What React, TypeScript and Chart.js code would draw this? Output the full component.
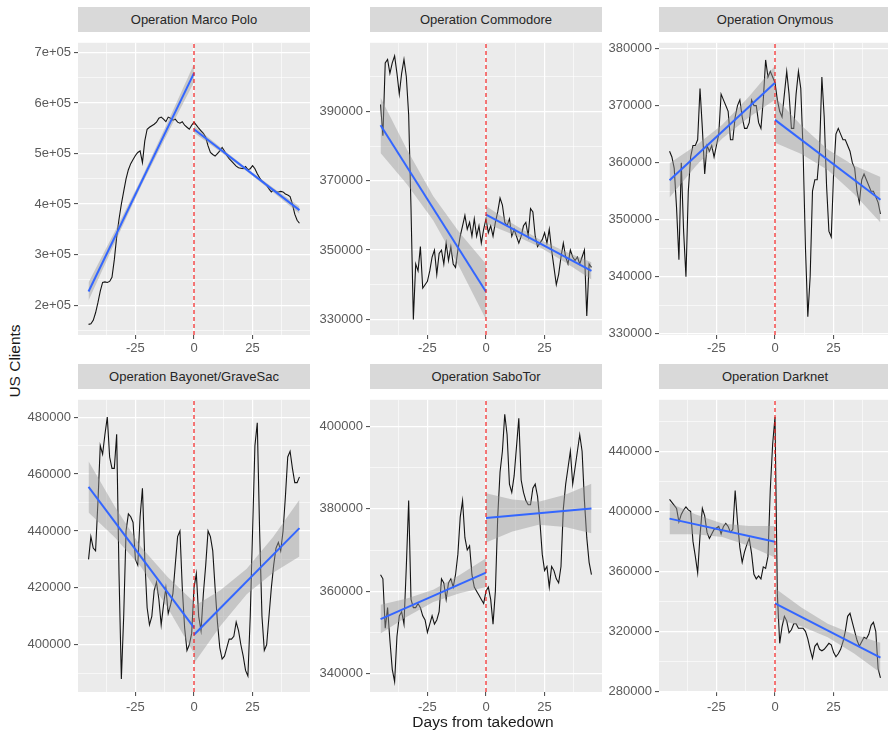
import React, { useEffect, useRef } from "react";
import { Chart, registerables } from "chart.js";

Chart.register(...registerables);

// ---------- DATA ----------
const days = [
  -45, -44, -43, -42, -41, -40, -39, -38, -37, -36, -35, -34, -33, -32, -31, -30,
  -29, -28, -27, -26, -25, -24, -23, -22, -21, -20, -19, -18, -17, -16, -15, -14,
  -13, -12, -11, -10, -9, -8, -7, -6, -5, -4, -3, -2, -1, 0, 1, 2, 3, 4, 5, 6, 7,
  8, 9, 10, 11, 12, 13, 14, 15, 16, 17, 18, 19, 20, 21, 22, 23, 24, 25, 26, 27, 28,
  29, 30, 31, 32, 33, 34, 35, 36, 37, 38, 39, 40, 41, 42, 43, 44, 45,
];

// US clients, thousands (day -45 .. 45)
const marcoPoloK = [
  162, 163, 170, 185, 205, 228, 245, 246, 245, 247,
  255, 290, 335, 370, 400, 425, 450, 468, 480, 488,
  496, 502, 505, 482, 525, 548, 552, 555, 558, 562,
  570, 572, 568, 563, 572, 570, 566, 568, 562, 560,
  563, 556, 552, 548, 556, 562,
  556, 550, 545, 540, 532, 515, 502, 498, 495, 500,
  505, 512, 505, 496, 490, 485, 480, 475, 472, 471,
  470, 474, 468, 470, 476, 470, 460, 452, 445, 442,
  437, 430, 424, 428, 424, 424, 425, 424, 420, 418,
  415, 400, 380, 368, 362,
];
const commodoreK = [
  392, 383, 404, 405, 401, 404, 406, 401, 395, 401,
  405, 400, 389, 362, 330, 346, 344, 351, 339, 340,
  341, 344, 348, 350, 343, 349, 350, 346, 352, 347,
  351, 346, 345, 350, 354, 357, 360, 356, 358, 354,
  359, 354, 357, 352, 356, 359,
  355, 357, 354, 358, 361, 365, 363, 358, 357, 359,
  354, 356, 354, 352, 354, 357, 358, 354, 362, 361,
  354, 351, 352, 353, 355, 352, 356, 350, 345, 340,
  343, 348, 352, 348, 346, 350, 348, 347, 348, 346,
  348, 350, 331, 346, 345,
];
const onymousK = [
  362, 361, 359, 352, 343, 360, 348, 340, 355, 361,
  363, 363, 364, 373, 366, 358, 363, 362, 363, 361,
  363, 365, 372, 371, 370, 369, 364, 364, 368, 370,
  371, 368, 366, 366, 367, 371, 370, 370, 367, 366,
  371, 378, 375, 376, 375, 374,
  371, 369, 368, 372, 376, 372, 366, 366, 372, 376,
  373, 362, 345, 333, 340, 355, 357, 357, 362, 375,
  368, 356, 348, 347, 358, 365, 366, 365, 364, 364,
  363, 362, 360, 359, 355, 353, 357, 358, 357, 356,
  355, 355, 354, 353, 351,
];
const bayonetK = [
  430, 438, 434, 433, 450, 470, 467, 474, 480, 466,
  462, 462, 474, 425, 388, 410, 440, 446, 445, 443,
  430, 428, 445, 455, 430, 413, 407, 410, 419, 422,
  416, 407, 414, 420, 411, 414, 418, 428, 438, 440,
  420, 406, 398, 400, 404, 420,
  425, 410, 405, 418, 428, 440, 438, 433, 420, 408,
  399, 395, 396, 399, 402, 402, 403, 408, 405, 400,
  396, 391, 389, 410, 440, 470, 478, 440, 410, 398,
  400, 410, 420, 428, 434, 436, 433, 440, 452, 466,
  468, 462, 457, 457, 459,
];
const saboTorK = [
  364, 363, 351, 356, 348, 341, 338, 349, 354, 355,
  352, 366, 382, 358, 356, 356, 357, 356, 354, 353,
  350, 352, 354, 352, 353, 355, 363, 362, 358, 362,
  363, 361, 364, 369, 378, 382, 373, 370, 371, 364,
  361, 360, 359, 358, 357, 360,
  361, 358, 352, 360, 378, 389, 394, 403, 398, 386,
  384, 388, 395, 402, 387, 384, 382, 381, 381, 385,
  386, 383, 377, 369, 365, 366, 361, 366, 365, 363,
  362, 366, 380, 386, 390, 394, 386, 390, 394, 398,
  394, 382, 373, 367, 364,
];
const darknetK = [
  408, 406, 404, 402, 393, 398, 401, 403, 401, 400,
  380, 370, 359, 384, 402, 397, 386, 382, 385, 388,
  389, 390, 385, 390, 392, 390, 386, 388, 414, 393,
  376, 366, 373, 378, 382, 372, 358, 355, 357, 355,
  363, 362, 370, 415, 445, 463,
  345, 312, 323, 330, 327, 319, 321, 325, 325, 322,
  322, 322, 320, 315, 308, 302, 310, 312, 308, 307,
  308, 310, 312, 311, 306, 303, 305, 308, 313, 320,
  330, 332, 326, 320, 314, 310, 313, 316, 315, 318,
  324, 326, 320, 295, 289,
];

// Linear fits (thousands) before / after takedown, with confidence band
const preFitDays = [-45, 0];
const postFitDays = [0, 45];
const preBandDays = [-45, -33.75, -22.5, -11.25, 0];
const postBandDays = [0, 11.25, 22.5, 33.75, 45];

const marcoPreFit = [227, 659];
const marcoPostFit = [548, 388];
const marcoPreUpper = [245, 346, 450, 562, 677];
const marcoPreLower = [209, 324, 436, 540, 641];
const marcoPostUpper = [555, 512.4, 471, 432.4, 395];
const marcoPostLower = [541, 503.6, 465, 423.6, 381];

const commodorePreFit = [386, 338];
const commodorePostFit = [360.2, 344];
const commodorePreUpper = [394, 379, 365.5, 355, 346];
const commodorePreLower = [378, 369, 358.5, 345, 330];
const commodorePostUpper = [362.7, 357.7, 353.2, 349.6, 346.5];
const commodorePostLower = [357.7, 354.6, 351.0, 346.5, 341.5];

const onymousPreFit = [356.9, 374];
const onymousPostFit = [367.5, 353.5];
const onymousPreUpper = [359.9, 363.0, 366.65, 371.5, 377];
const onymousPreLower = [353.9, 359.4, 364.25, 367.9, 371];
const onymousPostUpper = [371.5, 366.5, 362.3, 359.5, 357.5];
const onymousPostLower = [363.5, 361.5, 358.7, 354.5, 349.5];

const bayonetPreFit = [455.5, 406];
const bayonetPostFit = [403.5, 441];
const bayonetPreUpper = [464.5, 448.5, 434.25, 423.8, 415];
const bayonetPreLower = [446.5, 437.7, 427.25, 413.0, 397];
const bayonetPostUpper = [413.5, 419.2, 426.75, 437.9, 451];
const bayonetPostLower = [393.5, 406.6, 417.75, 425.3, 431];

const saboTorPreFit = [353.2, 364.5];
const saboTorPostFit = [377.8, 380.1];
const saboTorPreUpper = [356.7, 358.2, 360.35, 363.9, 368];
const saboTorPreLower = [349.7, 353.8, 357.35, 359.5, 361];
const saboTorPostUpper = [383.8, 382.3, 381.75, 383.4, 386.1];
const saboTorPostLower = [371.8, 374.5, 376.15, 375.6, 374.1];

const darknetPreFit = [395.2, 379.8];
const darknetPostFit = [338.7, 302.4];
const darknetPreUpper = [405.7, 397.9, 392, 390.2, 390.3];
const darknetPreLower = [384.7, 384.8, 383, 377.1, 369.3];
const darknetPostUpper = [348.7, 335.9, 325.05, 317.8, 312.4];
const darknetPostLower = [328.7, 323.3, 316.05, 305.2, 292.4];

// Axis ticks
const xTicksMajor = [-25, 0, 25];
const xTickLabels = ["-25", "0", "25"];
const xTicksMinor = [-37.5, -12.5, 12.5, 37.5];

const marcoYTicks = [200000, 300000, 400000, 500000, 600000, 700000];
const marcoYLabels = ["2e+05", "3e+05", "4e+05", "5e+05", "6e+05", "7e+05"];
const marcoYMinor = [150000, 250000, 350000, 450000, 550000, 650000];
const commodoreYTicks = [330000, 350000, 370000, 390000];
const commodoreYMinor = [340000, 360000, 380000, 400000];
const onymousYTicks = [330000, 340000, 350000, 360000, 370000, 380000];
const onymousYMinor = [335000, 345000, 355000, 365000, 375000];
const bayonetYTicks = [400000, 420000, 440000, 460000, 480000];
const bayonetYMinor = [390000, 410000, 430000, 450000, 470000];
const saboTorYTicks = [340000, 360000, 380000, 400000];
const saboTorYMinor = [350000, 370000, 390000];
const darknetYTicks = [280000, 320000, 360000, 400000, 440000];
const darknetYMinor = [300000, 340000, 380000, 420000, 460000];

// ---------- LAYOUT ----------
const FONT = "'Liberation Sans', Arial, Helvetica, sans-serif";
const PANEL_W = 232;
const PANEL_H = 303;
const STRIP_H = 25;
const X_MIN = -49.5;
const X_MAX = 49.5;
const cols = [
  { left: 78, yW: 52 },
  { left: 370, yW: 56 },
  { left: 659, yW: 56 },
];
const rows = [
  { stripTop: 7, panelTop: 32, xPad: 2, xH: 26 },
  { stripTop: 364, panelTop: 389, xPad: 4, xH: 24 },
];

type PanelSpec = {
  title: string;
  values: number[];
  preFit: number[];
  postFit: number[];
  preUpper: number[];
  preLower: number[];
  postUpper: number[];
  postLower: number[];
  yMin: number;
  yMax: number;
  yTicks: number[];
  yLabels: string[];
  yMinor: number[];
  col: number;
  row: number;
};

const panels: PanelSpec[] = [
  { title: "Operation Marco Polo", values: marcoPoloK, preFit: marcoPreFit, postFit: marcoPostFit,
    preUpper: marcoPreUpper, preLower: marcoPreLower, postUpper: marcoPostUpper, postLower: marcoPostLower,
    yMin: 141000, yMax: 719000, yTicks: marcoYTicks, yLabels: marcoYLabels, yMinor: marcoYMinor, col: 0, row: 0 },
  { title: "Operation Commodore", values: commodoreK, preFit: commodorePreFit, postFit: commodorePostFit,
    preUpper: commodorePreUpper, preLower: commodorePreLower, postUpper: commodorePostUpper, postLower: commodorePostLower,
    yMin: 325500, yMax: 409800, yTicks: commodoreYTicks, yLabels: commodoreYTicks.map(String), yMinor: commodoreYMinor, col: 1, row: 0 },
  { title: "Operation Onymous", values: onymousK, preFit: onymousPreFit, postFit: onymousPostFit,
    preUpper: onymousPreUpper, preLower: onymousPreLower, postUpper: onymousPostUpper, postLower: onymousPostLower,
    yMin: 329800, yMax: 381000, yTicks: onymousYTicks, yLabels: onymousYTicks.map(String), yMinor: onymousYMinor, col: 2, row: 0 },
  { title: "Operation Bayonet/GraveSac", values: bayonetK, preFit: bayonetPreFit, postFit: bayonetPostFit,
    preUpper: bayonetPreUpper, preLower: bayonetPreLower, postUpper: bayonetPostUpper, postLower: bayonetPostLower,
    yMin: 383400, yMax: 486100, yTicks: bayonetYTicks, yLabels: bayonetYTicks.map(String), yMinor: bayonetYMinor, col: 0, row: 1 },
  { title: "Operation SaboTor", values: saboTorK, preFit: saboTorPreFit, postFit: saboTorPostFit,
    preUpper: saboTorPreUpper, preLower: saboTorPreLower, postUpper: saboTorPostUpper, postLower: saboTorPostLower,
    yMin: 335500, yMax: 406500, yTicks: saboTorYTicks, yLabels: saboTorYTicks.map(String), yMinor: saboTorYMinor, col: 1, row: 1 },
  { title: "Operation Darknet", values: darknetK, preFit: darknetPreFit, postFit: darknetPostFit,
    preUpper: darknetPreUpper, preLower: darknetPreLower, postUpper: darknetPostUpper, postLower: darknetPostLower,
    yMin: 279500, yMax: 474500, yTicks: darknetYTicks, yLabels: darknetYTicks.map(String), yMinor: darknetYMinor, col: 2, row: 1 },
];

const toPts = (xs: number[], ks: number[]) => xs.map((x, i) => ({ x, y: ks[i] * 1000 }));

const panelBg = {
  id: "panelBg",
  beforeDraw(chart: any) {
    const { ctx, chartArea: a } = chart;
    ctx.save();
    ctx.fillStyle = "#EBEBEB";
    ctx.fillRect(a.left, a.top, a.right - a.left, a.bottom - a.top);
    ctx.restore();
  },
};

const BAND = "rgba(153,153,153,0.45)";
const NONE = "rgba(0,0,0,0)";

function Panel({ spec }: { spec: PanelSpec }) {
  const ref = useRef<HTMLCanvasElement>(null);
  const col = cols[spec.col];
  const row = rows[spec.row];
  const cw = col.yW + PANEL_W;
  const ch = PANEL_H + row.xH;

  useEffect(() => {
    const xAll = [...xTicksMinor, ...xTicksMajor].sort((a, b) => a - b);
    const yAll = [...spec.yMinor, ...spec.yTicks].sort((a, b) => a - b);
    const isXMajor = (v: number) => xTicksMajor.indexOf(v) >= 0;
    const isYMajor = (v: number) => spec.yTicks.indexOf(v) >= 0;

    const chart = new Chart(ref.current as HTMLCanvasElement, {
      type: "line",
      data: {
        datasets: [
          { label: "takedown", data: [{ x: 0, y: spec.yMin }, { x: 0, y: spec.yMax }],
            borderColor: "#F21D1D", borderWidth: 1.2, borderDash: [4, 3], pointRadius: 0, order: 0 } as any,
          { label: "fit-pre", data: toPts(preFitDays, spec.preFit), borderColor: "#3366FF",
            borderWidth: 2, pointRadius: 0, order: 1 },
          { label: "fit-post", data: toPts(postFitDays, spec.postFit), borderColor: "#3366FF",
            borderWidth: 2, pointRadius: 0, order: 1 },
          { label: "band-pre-up", data: toPts(preBandDays, spec.preUpper), borderColor: NONE,
            borderWidth: 0, pointRadius: 0, fill: "+1", backgroundColor: BAND, order: 2 },
          { label: "band-pre-lo", data: toPts(preBandDays, spec.preLower), borderColor: NONE,
            borderWidth: 0, pointRadius: 0, fill: false, order: 2 },
          { label: "band-post-up", data: toPts(postBandDays, spec.postUpper), borderColor: NONE,
            borderWidth: 0, pointRadius: 0, fill: "+1", backgroundColor: BAND, order: 2 },
          { label: "band-post-lo", data: toPts(postBandDays, spec.postLower), borderColor: NONE,
            borderWidth: 0, pointRadius: 0, fill: false, order: 2 },
          { label: "US Clients", data: toPts(days, spec.values), borderColor: "#141414",
            borderWidth: 1.1, pointRadius: 0, order: 3 },
        ],
      },
      options: {
        animation: false,
        responsive: false,
        maintainAspectRatio: false,
        layout: { padding: 0, autoPadding: false },
        plugins: { legend: { display: false }, tooltip: { enabled: false }, title: { display: false } },
        elements: { point: { radius: 0 }, line: { tension: 0 } },
        scales: {
          x: {
            type: "linear",
            min: X_MIN,
            max: X_MAX,
            afterBuildTicks: (s: any) => { s.ticks = xAll.map((v) => ({ value: v })); },
            afterFit: (s: any) => { s.height = row.xH; },
            ticks: {
              autoSkip: false,
              maxRotation: 0,
              padding: row.xPad,
              color: "#5a5a5a",
              font: { family: FONT, size: 13 },
              callback: (v: any) => { const i = xTicksMajor.indexOf(Number(v)); return i >= 0 ? xTickLabels[i] : ""; },
            },
            grid: {
              color: "#FFFFFF",
              lineWidth: (c: any) => (c.tick && isXMajor(c.tick.value) ? 1.2 : 0.6),
              tickColor: (c: any) => (c.tick && isXMajor(c.tick.value) ? "#444444" : NONE),
              tickLength: 4,
              tickWidth: 1,
            },
            border: { display: false },
          },
          y: {
            type: "linear",
            min: spec.yMin,
            max: spec.yMax,
            afterBuildTicks: (s: any) => { s.ticks = yAll.map((v) => ({ value: v })); },
            afterFit: (s: any) => { s.width = col.yW; },
            ticks: {
              autoSkip: false,
              padding: 3,
              color: "#5a5a5a",
              font: { family: FONT, size: 13 },
              callback: (v: any) => { const i = spec.yTicks.indexOf(Number(v)); return i >= 0 ? spec.yLabels[i] : ""; },
            },
            grid: {
              color: "#FFFFFF",
              lineWidth: (c: any) => (c.tick && isYMajor(c.tick.value) ? 1.2 : 0.6),
              tickColor: (c: any) => (c.tick && isYMajor(c.tick.value) ? "#444444" : NONE),
              tickLength: 4,
              tickWidth: 1,
            },
            border: { display: false },
          },
        },
      } as any,
      plugins: [panelBg],
    });
    return () => chart.destroy();
  }, [spec]);

  return (
    <>
      <div
        style={{
          position: "absolute",
          left: col.left,
          top: row.stripTop,
          width: PANEL_W,
          height: STRIP_H,
          lineHeight: STRIP_H + 1 + "px",
          background: "#D9D9D9",
          color: "#262626",
          fontFamily: FONT,
          fontSize: 13,
          textAlign: "center",
          whiteSpace: "nowrap",
          overflow: "hidden",
        }}
      >
        {spec.title}
      </div>
      <canvas
        ref={ref}
        width={cw}
        height={ch}
        style={{ position: "absolute", left: col.left - col.yW, top: row.panelTop, width: cw, height: ch }}
      />
    </>
  );
}

export default function App() {
  return (
    <div
      style={{
        position: "absolute",
        left: 0,
        top: 0,
        width: 888,
        height: 735,
        overflow: "hidden",
        background: "#FFFFFF",
      }}
    >
      {panels.map((p) => (
        <Panel key={p.title} spec={p} />
      ))}
      <div
        style={{
          position: "absolute",
          left: -85,
          top: 352,
          width: 200,
          height: 18,
          lineHeight: "18px",
          textAlign: "center",
          transform: "rotate(-90deg)",
          fontFamily: FONT,
          fontSize: 15.5,
          color: "#1a1a1a",
          whiteSpace: "nowrap",
        }}
      >
        US Clients
      </div>
      <div
        style={{
          position: "absolute",
          left: 383,
          top: 713,
          width: 200,
          height: 18,
          lineHeight: "18px",
          textAlign: "center",
          fontFamily: FONT,
          fontSize: 15.5,
          color: "#1a1a1a",
          whiteSpace: "nowrap",
        }}
      >
        Days from takedown
      </div>
    </div>
  );
}
